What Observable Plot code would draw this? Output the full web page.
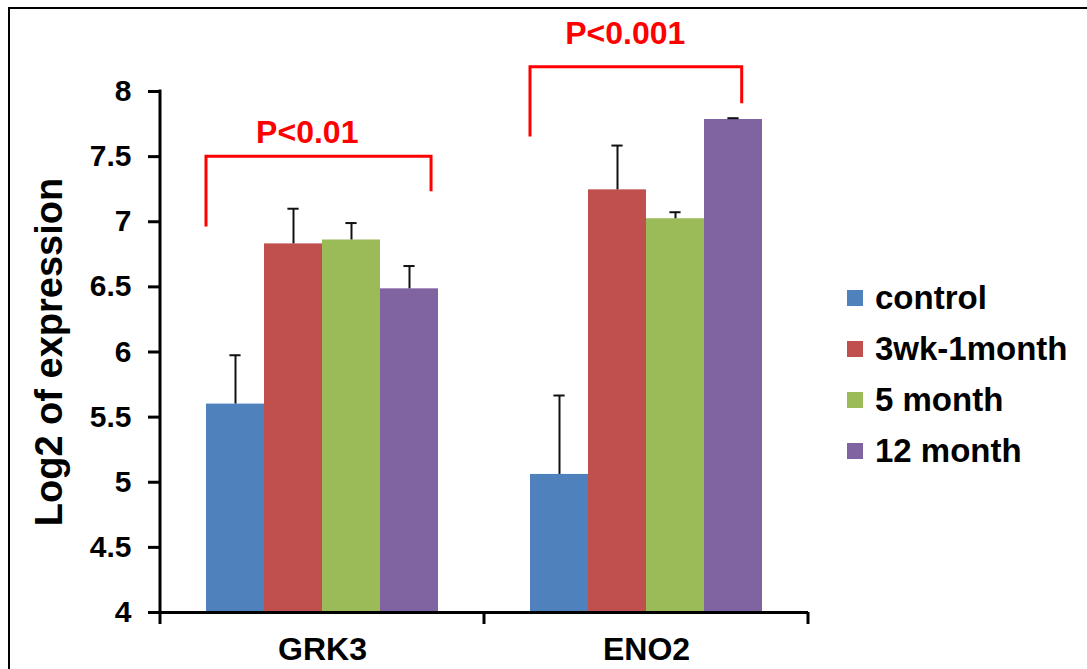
<!DOCTYPE html>
<html><head><meta charset="utf-8">
<script src="https://cdn.jsdelivr.net/npm/d3@7"></script>
<script src="https://cdn.jsdelivr.net/npm/@observablehq/plot@0.6"></script>
<style>
html,body{margin:0;padding:0;background:#fff;overflow:hidden;width:1087px;height:669px}
#wrap{position:relative;width:1087px;height:669px;overflow:hidden}
#frame{position:absolute;left:8px;top:7px;width:1300px;height:1000px;border-left:2px solid #000;border-top:2px solid #000;box-sizing:border-box;pointer-events:none}
#chart{position:absolute;left:0;top:0}
#legend{position:absolute;left:847px;top:272px;font:bold 33px "Liberation Sans",Arial,sans-serif;color:#000}
.item{display:flex;align-items:center;height:51px;white-space:nowrap}
.sw{width:16px;height:16px;margin-right:12px;flex:none}
</style>
</head><body>
<div id="wrap"><div id="chart"></div><div id="legend"></div><div id="frame"></div></div>
<script>
// ---- data ----
const genes = ["GRK3", "ENO2"];
const series = ["control", "3wk-1month", "5 month", "12 month"];
const colors = ["#4F81BD", "#C0504D", "#9BBB59", "#8064A2"];
const grk3Mean = [5.60, 6.83, 6.86, 6.485];
const grk3Err  = [0.375, 0.27, 0.13, 0.175];
const eno2Mean = [5.06, 7.245, 7.023, 7.785];
const eno2Err  = [0.606, 0.34, 0.05, 0.01];
const yTicks = [4, 4.5, 5, 5.5, 6, 6.5, 7, 7.5, 8];
const yLabel = "Log2 of expression";
const bracketGenes = ["GRK3", "ENO2"];
const bracketLabels = ["P<0.01", "P<0.001"];
const bracketTop = [7.5, 8.187];
const bracketLeftEnd = [6.96, 7.65];
const bracketRightEnd = [7.23, 7.905];
const bracketLabelY = [7.60, 8.36];

const means = [grk3Mean, eno2Mean];
const errs = [grk3Err, eno2Err];
const rows = genes.flatMap((g, gi) => series.map((s, si) => ({gene: g, series: s, mean: means[gi][si], err: errs[gi][si]})));

const FONT = '"Liberation Sans", Arial, Helvetica, sans-serif';

const plot = Plot.plot({
  width: 1087, height: 669,
  marginLeft: 160, marginRight: 279, marginTop: 91, marginBottom: 57,
  style: {fontFamily: FONT, fontWeight: "bold", background: "transparent", overflow: "visible", color: "#000"},
  fx: {domain: genes, padding: 0, label: null},
  x: {domain: series, paddingInner: 0, paddingOuter: 0.755, axis: null},
  y: {domain: [4, 8]},
  color: {domain: series, range: colors},
  marks: [
    Plot.barY(rows, {fx: "gene", x: "series", y1: 4, y2: "mean", fill: "series"}),
    Plot.ruleX(rows, {fx: "gene", x: "series", y1: "mean", y2: d => d.mean + d.err, stroke: "#111", strokeWidth: 2}),
    Plot.tickY(rows, {fx: "gene", x: "series", y: d => d.mean + d.err, stroke: "#111", strokeWidth: 2, insetLeft: 23.4, insetRight: 23.4}),
    Plot.ruleY([4], {stroke: "#000", strokeWidth: 3}),
    Plot.axisY({ticks: yTicks, tickFormat: d => String(d), tickSize: 12, tickPadding: 17, strokeWidth: 3,
      fontSize: 30, fontWeight: "bold", label: null}),
    Plot.axisY({ticks: [], tickSize: 0, fontSize: 38, fontWeight: "bold",
      label: yLabel, labelAnchor: "center", labelOffset: 125, labelArrow: "none"}),
    Plot.axisFx({anchor: "bottom", tickSize: 0, tickPadding: 25, fontSize: 32, fontWeight: "bold", label: null})
  ]
});
document.getElementById("chart").appendChild(plot);

// ---- axis lines, boundary ticks and significance brackets via Plot's scales ----
const fx = plot.scale("fx"), xs = plot.scale("x"), ys = plot.scale("y");
const x0 = Math.min(...xs.range);
const bw = xs.bandwidth;
const absX = (g, s) => fx.apply(g) + xs.apply(s) - x0;
const svg = d3.select(plot);
const g = svg.append("g");
const left0 = fx.apply(genes[0]);
g.append("line").attr("x1", left0).attr("x2", left0).attr("y1", ys.apply(4) + 1.5).attr("y2", ys.apply(8) - 1.5)
  .attr("stroke", "#000").attr("stroke-width", 3);
const bounds = [...new Set(genes.flatMap(k => [fx.apply(k), fx.apply(k) + fx.bandwidth]))];
bounds.forEach(b => g.append("line").attr("x1", b).attr("x2", b).attr("y1", ys.apply(4)).attr("y2", ys.apply(4) + 12)
  .attr("stroke", "#000").attr("stroke-width", 3));

const rightFrac = [0.88, 0.65];
bracketGenes.forEach((gene, i) => {
  const xl = absX(gene, series[0]);
  const xr = absX(gene, series[series.length - 1]) + rightFrac[i] * bw;
  g.append("path")
    .attr("d", `M${xl},${ys.apply(bracketLeftEnd[i])}V${ys.apply(bracketTop[i])}H${xr}V${ys.apply(bracketRightEnd[i])}`)
    .attr("fill", "none").attr("stroke", "#FF0000").attr("stroke-width", 3);
  g.append("text").attr("x", xl + 0.45 * (xr - xl)).attr("y", ys.apply(bracketLabelY[i]))
    .attr("text-anchor", "middle").attr("fill", "#FF0000")
    .attr("font-family", FONT).attr("font-weight", "bold").attr("font-size", 32).text(bracketLabels[i]);
});

// ---- legend ----
const color = plot.scale("color");
const leg = d3.select("#legend");
series.forEach((s, i) => {
  const it = leg.append("div").attr("class", "item");
  it.append("div").attr("class", "sw").style("background", color.range[i]);
  it.append("span").text(s);
});
</script>
</body></html>
